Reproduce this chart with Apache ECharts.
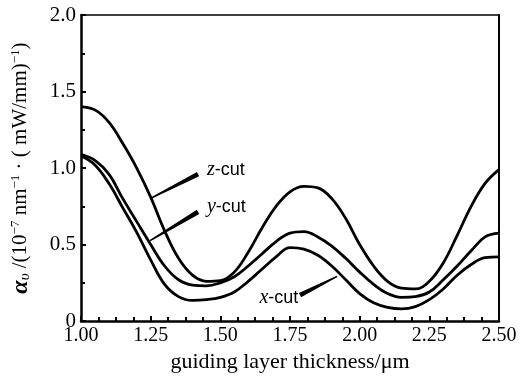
<!DOCTYPE html>
<html>
<head>
<meta charset="utf-8">
<script src="https://cdn.jsdelivr.net/npm/echarts@6/dist/echarts.min.js"></script>
<style>
  html, body { margin: 0; padding: 0; background: #fff; }
  #chart { width: 522px; height: 378px; }
</style>
</head>
<body>
<div id="chart"></div>
<script>
// guiding layer thickness (um)
const thickness = [1.00, 1.05, 1.10, 1.15, 1.20, 1.25, 1.30, 1.35, 1.40, 1.45, 1.50,
  1.55, 1.60, 1.65, 1.70, 1.75, 1.80, 1.85, 1.90, 1.95, 2.00,
  2.05, 2.10, 2.15, 2.20, 2.25, 2.30, 2.35, 2.40, 2.45, 2.50];
const zCut = [1.40, 1.38, 1.30, 1.16, 1.00, 0.81, 0.59, 0.41, 0.30, 0.26, 0.265,
  0.32, 0.45, 0.61, 0.75, 0.845, 0.88, 0.87, 0.80, 0.67, 0.50,
  0.36, 0.26, 0.215, 0.21, 0.26, 0.38, 0.56, 0.75, 0.90, 0.99];
const yCut = [1.09, 1.05, 0.96, 0.80, 0.65, 0.50, 0.36, 0.27, 0.235, 0.23, 0.25,
  0.29, 0.36, 0.44, 0.52, 0.575, 0.585, 0.55, 0.49, 0.41, 0.32,
  0.24, 0.18, 0.155, 0.16, 0.19, 0.27, 0.36, 0.46, 0.55, 0.575];
const xCut = [1.08, 1.02, 0.90, 0.74, 0.58, 0.40, 0.24, 0.16, 0.135, 0.14, 0.155,
  0.19, 0.26, 0.34, 0.42, 0.48, 0.47, 0.43, 0.36, 0.27, 0.18,
  0.12, 0.09, 0.08, 0.095, 0.14, 0.21, 0.30, 0.37, 0.415, 0.42];

// curve labels: text anchor + leader line (data coords, thin end first)
const labels = [
  { name: 'z', text: [1.452, 0.99], align: 'left', line: [[1.248, 0.80], [1.42, 0.96]] },
  { name: 'y', text: [1.452, 0.745], align: 'left', line: [[1.248, 0.526], [1.42, 0.714]] },
  { name: 'x', text: [1.78, 0.15], align: 'right', line: [[1.919, 0.292], [1.786, 0.169]] },
];

const chart = echarts.init(document.getElementById('chart'));
const serif = 'Liberation Serif';
const pair = (ys) => thickness.map((t, i) => [t, ys[i]]);
const curve = (name, ys) => ({
  name, type: 'line', data: pair(ys), smooth: 0.4, symbol: 'none',
  lineStyle: { color: '#000', width: 2.8 }, z: 3,
});

chart.setOption({
  animation: false,
  backgroundColor: '#fff',
  grid: { left: 81, right: 23, top: 15, bottom: 55 },
  xAxis: [{
    type: 'value', min: 1, max: 2.5, interval: 0.25,
    name: 'guiding layer thickness/μm', nameLocation: 'middle', nameGap: 29,
    nameTextStyle: { fontFamily: serif, fontSize: 22, color: '#000' },
    axisLine: { lineStyle: { color: '#000', width: 2.5 } },
    axisTick: { inside: true, length: 5, lineStyle: { color: '#000', width: 2 } },
    minorTick: { show: true, splitNumber: 4, length: 4, lineStyle: { color: '#000', width: 2 } },
    axisLabel: { fontFamily: serif, fontSize: 20, color: '#000', margin: 5,
      formatter: (v) => v.toFixed(2) },
    splitLine: { show: false },
  }, {
    type: 'value', min: 1, max: 2.5, position: 'top',
    axisLine: { onZero: false, lineStyle: { color: '#000', width: 1.5 } },
    axisTick: { show: false }, axisLabel: { show: false }, splitLine: { show: false },
  }],
  yAxis: [{
    type: 'value', min: 0, max: 2, interval: 0.5,
    name: '{a|α}{s|υ}{n| /(10}{p|−7}{n| nm}{p|−1}{n| · ( mW/mm)}{p|−1}{n|)}',
    nameLocation: 'middle', nameGap: 48, nameRotate: 90,
    nameTextStyle: {
      rich: {
        a: { fontFamily: serif, fontSize: 24, fontStyle: 'italic', fontWeight: 'bold', color: '#000' },
        s: { fontFamily: serif, fontSize: 15, fontStyle: 'italic', color: '#000', padding: [10, 0, 0, 0] },
        n: { fontFamily: serif, fontSize: 21, color: '#000' },
        p: { fontFamily: serif, fontSize: 13, color: '#000', padding: [0, 0, 10, 0] },
      },
    },
    axisLine: { lineStyle: { color: '#000', width: 2.5 } },
    axisTick: { inside: true, length: 5, lineStyle: { color: '#000', width: 2 } },
    minorTick: { show: true, splitNumber: 2, length: 4, lineStyle: { color: '#000', width: 2 } },
    axisLabel: { fontFamily: serif, fontSize: 21, color: '#000', margin: 5,
      formatter: (v) => (v === 0 ? '0' : v.toFixed(1)) },
    splitLine: { show: false },
  }, {
    type: 'value', min: 0, max: 2, position: 'right',
    axisLine: { show: true, onZero: false, lineStyle: { color: '#000', width: 2 } },
    axisTick: { show: false }, axisLabel: { show: false }, splitLine: { show: false },
  }],
  series: [curve('z-cut', zCut), curve('y-cut', yCut), curve('x-cut', xCut)],
});

// curve labels and wedge-shaped leader lines, placed through the axis scales
const graphics = [];
labels.forEach((l) => {
  const a = chart.convertToPixel({ gridIndex: 0 }, l.line[0]);
  const b = chart.convertToPixel({ gridIndex: 0 }, l.line[1]);
  const dx = b[0] - a[0], dy = b[1] - a[1];
  const len = Math.hypot(dx, dy);
  const nx = -dy / len, ny = dx / len;
  const w0 = 0.8, w1 = 2.4;
  graphics.push({
    type: 'polygon', z: 10,
    shape: { points: [
      [a[0] + nx * w0, a[1] + ny * w0], [b[0] + nx * w1, b[1] + ny * w1],
      [b[0] - nx * w1, b[1] - ny * w1], [a[0] - nx * w0, a[1] - ny * w0],
    ] },
    style: { fill: '#000' },
  });
  const t = chart.convertToPixel({ gridIndex: 0 }, l.text);
  graphics.push({
    type: 'text', x: t[0], y: t[1], z: 10,
    style: {
      text: '{i|' + l.name + '}{c|-cut}',
      align: l.align, verticalAlign: 'middle',
      rich: {
        i: { fontFamily: serif, fontStyle: 'italic', fontSize: 20, fill: '#000' },
        c: { fontFamily: 'Liberation Sans', fontSize: 18, fill: '#000' },
      },
    },
  });
});
chart.setOption({ graphic: graphics });
</script>
</body>
</html>
